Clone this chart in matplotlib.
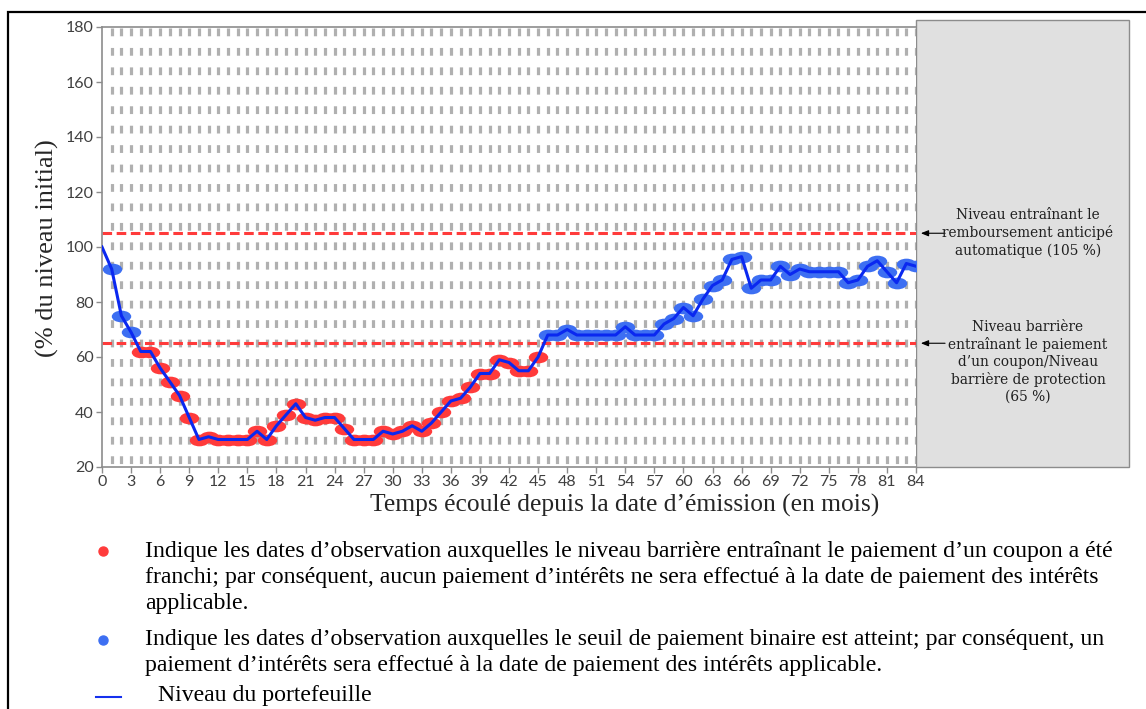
import numpy as np
import matplotlib.pyplot as plt
from matplotlib.path import Path
from matplotlib.patches import Rectangle
from matplotlib.lines import Line2D
from matplotlib.markers import MarkerStyle
from matplotlib.transforms import Affine2D

plt.rcParams['lines.scale_dashes'] = False

# données (niveau du portefeuille, % du niveau initial)
mois = list(range(0, 85))
niveau = [100, 92, 75, 69, 62, 62, 56, 51, 46, 38,
          30, 31, 30, 30, 30, 30, 33, 30, 35, 39,
          43, 38, 37, 38, 38, 34, 30, 30, 30, 33,
          32, 33, 35, 33, 36, 40, 44, 45, 49, 54,
          54, 59, 58, 55, 55, 60, 68, 68, 70, 68,
          68, 68, 68, 68, 71, 68, 68, 68, 72, 74,
          78, 75, 81, 86, 88, 95.5, 96.5, 85, 88, 88,
          93, 90, 92, 91, 91, 91, 91, 87, 88, 93,
          95, 91, 87, 94, 93]
seuil_coupon = 65
seuil_rappel = 105
x_ticks = list(range(0, 85, 3))
y_ticks = list(range(20, 181, 20))

W, H = 1146, 709
fig = plt.figure(figsize=(W / 100, H / 100), dpi=100)
ax = fig.add_axes([102 / W, 1 - 467 / H, (916 - 102) / W, 440 / H])

# grille verticale en tirets gris, un trait par mois
ax.vlines(mois[1:], 179.6, 20, colors='#b0b0b0', linewidth=2.3,
          linestyles=[(0, (5.6, 8.4))], zorder=1)

# niveaux de référence
ax.hlines([seuil_rappel, seuil_coupon], 0, 84, colors='#ff3b3b', linewidth=2.2,
          linestyles=[(0, (6.9, 3.3))], zorder=2)

# marqueurs en ellipse
ellipse = Path.unit_circle().transformed(Affine2D().scale(1, 0.6))
m_ell = MarkerStyle(ellipse)

x = np.array(mois)
y = np.array(niveau, dtype=float)
sous = (y < seuil_coupon) & (x > 0)
dessus = (y >= seuil_coupon) & (x > 0)
ax.plot(x[sous], y[sous], linestyle='none', marker=m_ell, markersize=14,
        markerfacecolor='#ff3b3b', markeredgecolor='none', zorder=3)
ax.plot(x[dessus], y[dessus], linestyle='none', marker=m_ell, markersize=14,
        markerfacecolor='#3d6ff2', markeredgecolor='none', zorder=3)
ax.plot(x, y, color='#0a28f0', linewidth=2.2, zorder=4, solid_joinstyle='round')

ax.set_xlim(0, 84)
ax.set_ylim(20, 180)
ax.set_xticks(x_ticks)
ax.set_yticks(y_ticks)
for s in ['left', 'bottom', 'top']:
    ax.spines[s].set_color('#8c8c8c')
    ax.spines[s].set_linewidth(1.2)
ax.spines['right'].set_visible(False)
ax.tick_params(axis='both', colors='#8c8c8c', length=4, width=1, labelcolor='#404040',
               labelsize=11.5, pad=2)
for lab in ax.get_xticklabels() + ax.get_yticklabels():
    lab.set_family('Lato')

# arrière-plan gris à droite
fig.add_artist(Rectangle((916 / W, 1 - 467 / H), (1129 - 916) / W, (467 - 20) / H,
                         transform=fig.transFigure, facecolor='#e0e0e0',
                         edgecolor='#8c8c8c', linewidth=1, zorder=-1))

# cadre noir
fig.add_artist(Rectangle((8 / W, -0.2), 1.5, 1.2 - 12 / H, transform=fig.transFigure,
                         fill=False, edgecolor='black', linewidth=1.6))

for niv in [seuil_rappel, seuil_coupon]:
    ax.annotate('', xy=(84.5, niv), xytext=(87.0, niv), annotation_clip=False,
                arrowprops=dict(arrowstyle='-|>,head_length=0.45,head_width=0.18',
                                color='black', lw=0.8, shrinkA=0, shrinkB=0))

box_font = dict(family='DejaVu Serif', size=9.9, color='#1f1f1f', ha='center',
                va='center', linespacing=1.25)
fig.text(1028 / W, 1 - 233 / H,
         "Niveau entraînant le\nremboursement anticipé\nautomatique (105 %)", **box_font)
fig.text(1028 / W, 1 - 362 / H,
         "Niveau barrière\nentraînant le paiement\nd’un coupon/Niveau\n"
         "barrière de protection\n(65 %)", **box_font)

# titres des axes
fig.text(47 / W, 1 - 248 / H, "(% du niveau initial)", rotation=90, ha='center',
         va='center', family='Liberation Serif', size=19, color='#262626')
fig.text(625 / W, 1 - 505 / H, "Temps écoulé depuis la date d’émission (en mois)",
         ha='center', va='center', family='Liberation Serif', size=18.4, color='#262626')

# légende
leg_font = dict(family='Liberation Serif', size=17.1, color='black', va='center', ha='left')
lignes = [
    (551, "Indique les dates d’observation auxquelles le niveau barrière entraînant le paiement d’un coupon a été"),
    (578, "franchi; par conséquent, aucun paiement d’intérêts ne sera effectué à la date de paiement des intérêts"),
    (604, "applicable."),
    (640, "Indique les dates d’observation auxquelles le seuil de paiement binaire est atteint; par conséquent, un"),
    (666, "paiement d’intérêts sera effectué à la date de paiement des intérêts applicable."),
]
for yy, txt in lignes:
    fig.text(145 / W, 1 - yy / H, txt, **leg_font)
fig.text(158 / W, 1 - 695 / H, "Niveau du portefeuille", **leg_font)

fig.add_artist(Line2D([103 / W], [1 - 551 / H], transform=fig.transFigure, marker='o',
                      markersize=6.5, color='#ff3b3b', linestyle='none'))
fig.add_artist(Line2D([103 / W], [1 - 640 / H], transform=fig.transFigure, marker='o',
                      markersize=6.5, color='#3d6ff2', linestyle='none'))
fig.add_artist(Line2D([96 / W, 121 / W], [1 - 697 / H, 1 - 697 / H],
                      transform=fig.transFigure, color='#1530ee', linewidth=1.5))

fig.savefig('out.png', dpi=100)
